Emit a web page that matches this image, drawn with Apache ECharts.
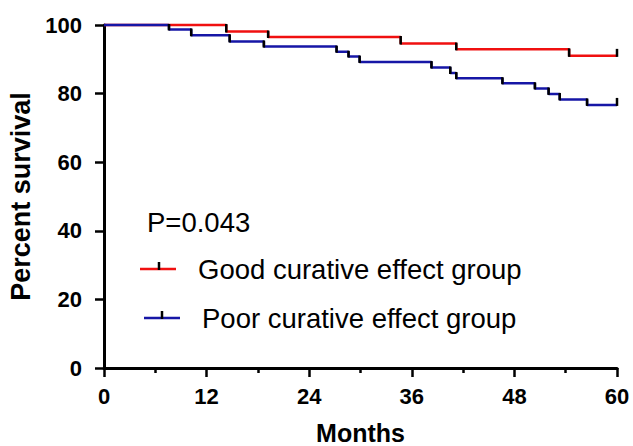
<!DOCTYPE html>
<html>
<head>
<meta charset="utf-8">
<script src="https://cdn.jsdelivr.net/npm/echarts@6/dist/echarts.min.js"></script>
<style>
html,body{margin:0;padding:0;background:#fff;}
#chart{width:633px;height:446px;}
</style>
</head>
<body>
<div id="chart"></div>
<script>
// Data
var goodTimes = [0, 14.3, 19.2, 34.7, 41.2, 54.4, 60];
var goodSurv  = [100, 98.1, 96.5, 94.6, 92.9, 91.0, 91.0];
var poorTimes = [0, 7.6, 10.2, 14.7, 18.7, 27.2, 28.6, 29.9, 38.3, 40.5, 41.2, 46.6, 50.4, 52.0, 53.3, 56.5, 60];
var poorSurv  = [100, 98.7, 97.0, 95.2, 93.7, 92.2, 90.8, 89.2, 87.6, 86.0, 84.5, 83.0, 81.5, 79.9, 78.3, 76.7, 76.7];
var censorGood = [[60, 91.0]];
var censorPoor = [[60, 76.7]];
var xTicks = [0, 12, 24, 36, 48, 60];
var yTicks = [0, 20, 40, 60, 80, 100];
var seriesNames = ['Good curative effect group', 'Poor curative effect group'];
var pValueText = 'P=0.043';
var xTitle = 'Months';
var yTitle = 'Percent survival';

var RED = '#f01010', BLUE = '#1616a6';
var FONT = '"Liberation Sans", Arial, sans-serif';

function pairs(t, s) { return t.map(function (v, i) { return [v, s[i]]; }); }
function drops(t, s) {
  var out = [];
  for (var i = 1; i < t.length; i++) if (s[i] !== s[i - 1]) out.push([t[i], s[i - 1], s[i]]);
  return out;
}

var chart = echarts.init(document.getElementById('chart'), null, {renderer: 'svg'});

function vSeg(params, api) {
  var p1 = api.coord([api.value(0), api.value(1)]);
  var p2 = api.coord([api.value(0), api.value(2)]);
  return {type: 'line', shape: {x1: p1[0], y1: p1[1] - 1, x2: p2[0], y2: p2[1] + 1},
          style: {stroke: '#000', lineWidth: 2.5}};
}
function censorTick(params, api) {
  var p = api.coord([api.value(0), api.value(1)]);
  return {type: 'line', shape: {x1: p[0], y1: p[1] + 1, x2: p[0], y2: p[1] - 7},
          style: {stroke: '#000', lineWidth: 2.5}};
}

var axisCommon = {
  axisLine: {show: true, lineStyle: {color: '#000', width: 3}},
  axisTick: {show: true, inside: false, length: 9, lineStyle: {color: '#000', width: 2.5}},
  splitLine: {show: false},
  nameLocation: 'middle',
  nameTextStyle: {fontFamily: FONT, fontWeight: 'bold', color: '#000'}
};

chart.setOption({
  animation: false,
  grid: {left: 104, right: 16, top: 25, bottom: 78, containLabel: false, outerBoundsMode: 'none'},
  xAxis: Object.assign({}, axisCommon, {
    type: 'value', min: xTicks[0], max: xTicks[xTicks.length - 1], interval: 12,
    name: xTitle, nameGap: 53,
    nameTextStyle: {fontFamily: FONT, fontWeight: 'bold', color: '#000', fontSize: 25, lineHeight: 24},
    minorTick: {show: true, splitNumber: 2, length: 5, lineStyle: {color: '#000', width: 2.5}},
    axisLabel: {fontFamily: FONT, fontWeight: 'bold', fontSize: 22, color: '#000', margin: 17}
  }),
  yAxis: Object.assign({}, axisCommon, {
    type: 'value', min: yTicks[0], max: yTicks[yTicks.length - 1], interval: 20,
    name: yTitle, nameGap: 70, nameRotate: 90,
    nameTextStyle: {fontFamily: FONT, fontWeight: 'bold', color: '#000', fontSize: 27},
    axisLabel: {fontFamily: FONT, fontWeight: 'bold', fontSize: 22, color: '#000', margin: 22}
  }),
  series: [
    {name: seriesNames[0], type: 'line', step: 'end', data: pairs(goodTimes, goodSurv),
     symbol: 'none', clip: false, z: 2, lineStyle: {color: RED, width: 2.5}, itemStyle: {color: RED}},
    {name: seriesNames[1], type: 'line', step: 'end', data: pairs(poorTimes, poorSurv),
     symbol: 'none', clip: false, z: 3, lineStyle: {color: BLUE, width: 2.5}, itemStyle: {color: BLUE}},
    {type: 'custom', renderItem: vSeg, data: drops(goodTimes, goodSurv), encode: {x: 0, y: [1, 2]}, z: 4, clip: false},
    {type: 'custom', renderItem: vSeg, data: drops(poorTimes, poorSurv), encode: {x: 0, y: [1, 2]}, z: 4, clip: false},
    {type: 'custom', renderItem: censorTick, data: censorGood.concat(censorPoor), encode: {x: 0, y: 1}, z: 5, clip: false}
  ],
  graphic: [
    {type: 'text', left: 147, top: 208, style: {text: pValueText, font: '27.5px ' + FONT, fill: '#000'}},
    {type: 'line', shape: {x1: 140, y1: 269, x2: 176, y2: 269}, style: {stroke: RED, lineWidth: 2.5}},
    {type: 'line', shape: {x1: 159, y1: 270, x2: 159, y2: 262}, style: {stroke: '#000', lineWidth: 2.5}},
    {type: 'text', left: 198, top: 255, style: {text: seriesNames[0], font: '27.5px ' + FONT, fill: '#000'}},
    {type: 'line', shape: {x1: 144, y1: 318, x2: 180, y2: 318}, style: {stroke: BLUE, lineWidth: 2.5}},
    {type: 'line', shape: {x1: 162, y1: 319, x2: 162, y2: 311}, style: {stroke: '#000', lineWidth: 2.5}},
    {type: 'text', left: 202, top: 304, style: {text: seriesNames[1], font: '27.5px ' + FONT, fill: '#000'}}
  ]
});
</script>
</body>
</html>
